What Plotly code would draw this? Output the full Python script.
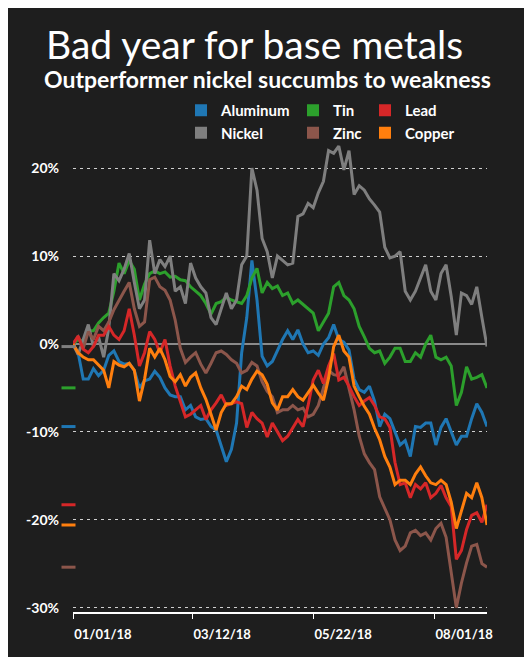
import pandas as pd
import plotly.graph_objects as go

# ---- data (percent change since 01/01/18, sampled every 3 days) ----
dates = pd.date_range("2018-01-01", periods=82, freq="3D")

aluminum = [0, -1.0, -4.0, -4.0, -2.8, -3.6, -3.0, -1.3, -0.8, -2.0,
            -2.3, -2.2, -3.0, -5.0, -4.2, -4.0, -3.1, -3.8, -5.0, -5.8,
            -6.0, -6.0, -7.5, -7.0, -8.3, -8.6, -8.5, -9.4, -9.8, -11.5,
            -13.4, -12.0, -9.0, -1.0, 3.0, 9.5, 5.0, -1.4, -2.5, -2.0,
            -0.8, 0.5, 1.5, 0.5, 1.6, 0.0, -1.0, -0.8, -1.3, 0.0,
            0.7, 2.2, 0.5, 0.2, -0.7, -4.0, -5.2, -5.5, -4.8, -6.5,
            -9.4, -8.0, -8.5, -10.0, -11.5, -11.0, -12.8, -9.4, -9.5, -9.0,
            -9.0, -11.5, -9.5, -8.5, -10.0, -11.5, -10.5, -10.5, -8.5, -6.8,
            -7.8, -9.4]
tin = [0, 0.5, 0.3, 1.5, 1.5, 2.4, 3.0, 3.5, 6.0, 9.2,
       8.0, 9.5, 8.5, 5.0, 6.8, 8.0, 8.3, 8.0, 8.2, 7.6,
       7.7, 7.3, 7.2, 6.5, 6.0, 5.5, 4.6, 3.4, 4.6, 4.8,
       5.3, 5.0, 4.8, 4.6, 5.5, 7.5, 8.6, 5.8, 7.0, 6.3,
       6.6, 5.5, 5.8, 4.6, 5.0, 4.5, 4.0, 3.5, 1.5, 2.5,
       3.5, 6.5, 7.0, 5.5, 5.0, 4.0, 2.0, 0.8, -0.5, -1.0,
       -0.8, -2.2, -1.5, -0.5, -0.5, -2.0, -2.0, -1.0, -1.5, 0.0,
       1.0, -1.5, -1.8, -1.5, -2.5, -7.0, -5.5, -2.6, -4.0, -3.8,
       -3.5, -5.0]
lead = [0, 0.9, -0.6, -1.0, -0.3, 1.0, 1.0, 2.0, 1.0, 0.5,
        1.5, 4.0, 1.0, -2.5, -1.0, 1.4, 0.5, -1.0, 0.5, -2.5,
        -4.8, -6.5, -8.3, -8.0, -7.5, -7.0, -8.6, -7.5, -6.7, -5.8,
        -7.0, -6.8, -6.6, -6.8, -9.5, -7.8, -8.5, -9.0, -10.6, -9.0,
        -10.0, -11.0, -10.5, -9.5, -8.6, -9.4, -7.0, -4.1, -3.0, -4.5,
        -2.5, -1.1, -4.1, -3.8, -4.8, -6.0, -7.0, -6.5, -6.1, -7.0,
        -8.3, -8.5, -9.5, -13.5, -16.0, -15.8, -17.5, -16.0, -16.5, -15.8,
        -17.5, -17.0, -16.1, -17.5, -18.5, -24.5, -23.5, -21.1, -19.5, -19.2,
        -20.3, -18.3]
nickel = [0, -1.2, 0.5, 2.2, -0.3, 0.8, -1.5, 1.8, 8.0, 7.2,
          8.5, 10.3, 7.0, 4.0, 5.0, 11.8, 8.0, 9.6, 8.8, 10.0,
          6.0, 6.5, 4.6, 9.2, 7.5, 6.5, 5.8, 3.0, 2.2, 4.0,
          5.8, 4.0, 5.0, 9.0, 10.0, 20.0, 17.5, 12.0, 10.5, 7.5,
          10.0, 9.5, 9.0, 9.2, 14.5, 14.8, 16.0, 15.5, 17.2, 18.5,
          22.0, 21.7, 22.5, 19.8, 22.0, 17.0, 18.0, 17.5, 16.5, 15.8,
          15.0, 11.0, 9.8, 10.0, 10.5, 6.0, 5.0, 6.0, 7.5, 9.0,
          6.0, 5.0, 8.0, 9.0, 5.4, 1.0, 5.8, 5.5, 4.5, 6.5,
          3.0, -0.3]
zinc = [0, 0.8, -0.5, 1.4, 0.5, 2.0, 1.5, 2.5, 3.9, 5.0,
        6.0, 7.0, 4.0, 2.0, 2.5, 7.3, 7.6, 6.5, 6.1, 5.0,
        2.7, -0.5, -2.1, -1.5, -1.0, -2.3, -3.3, -2.2, -1.0, -0.8,
        -1.2, -1.8, -2.2, -3.3, -3.0, -2.1, -2.5, -4.3, -5.4, -6.0,
        -7.8, -7.5, -7.5, -7.0, -7.5, -7.3, -8.3, -8.0, -7.0, -5.0,
        -3.0, -3.5, -3.6, -2.6, -5.0, -7.5, -10.5, -12.5, -13.5, -14.3,
        -17.4, -18.8, -20.0, -22.3, -23.5, -23.0, -21.5, -21.2, -21.8, -21.5,
        -22.3, -21.0, -20.4, -22.0, -26.0, -30.0, -27.2, -24.9, -23.0, -22.8,
        -25.0, -25.4]
copper = [0, -1.0, -1.5, -1.8, -1.8, -2.4, -3.0, -5.0, -2.0, -2.4,
          -2.6, -2.2, -3.0, -6.5, -4.0, -0.5, -1.5, -0.5, -1.8, -3.7,
          -4.3, -3.5, -4.8, -3.8, -3.3, -5.0, -6.3, -8.0, -9.8, -7.8,
          -6.8, -6.8, -6.0, -4.8, -5.2, -4.0, -3.1, -3.5, -4.6, -6.7,
          -7.5, -6.0, -6.0, -5.2, -6.0, -6.4, -5.5, -4.7, -5.6, -6.4,
          -3.9, -0.3, 1.0, -0.8, -1.5, -4.8, -6.0, -7.1, -8.0, -9.6,
          -10.9, -12.8, -14.0, -16.0, -15.5, -15.5, -16.0, -14.8, -14.0, -15.0,
          -15.8, -16.0, -15.5, -16.0, -18.0, -21.0, -19.0, -17.0, -17.5, -15.8,
          -17.5, -20.6]

y_ticks = [-30, -20, -10, 0, 10, 20]
y_labels = ["-30%", "-20%", "-10%", "0%", "10%", "20%"]
x_ticks = ["2018-01-01", "2018-03-12", "2018-05-22", "2018-08-01"]
x_labels = ["01/01/18", "03/12/18", "05/22/18", "08/01/18"]

series = [
    ("Aluminum", aluminum, "#1f77b4", "legend"),
    ("Tin", tin, "#2ca02c", "legend2"),
    ("Nickel", nickel, "#7f7f7f", "legend"),
    ("Zinc", zinc, "#8c564b", "legend2"),
    ("Lead", lead, "#d62728", "legend3"),
    ("Copper", copper, "#ff7f0e", "legend3"),
]
legend_order = ["Aluminum", "Nickel", "Tin", "Zinc", "Lead", "Copper"]

# page offset (browser body margin) compensation and geometry helpers
OFF = 8
W, H = 532, 657
ML, MR, MT, MB = 64 - OFF, W - (487 - OFF), 133 - OFF, H - (612 - OFF)
PW, PH = W - ML - MR, H - MT - MB
STRIP = 9  # width of the end-value marker strip left of the axis


def px(sx):
    return (sx - OFF - ML) / PW


def py(sy):
    return (H - MB - (sy - OFF)) / PH


fig = go.Figure()
for name, vals, color, lg in series:
    fig.add_trace(go.Scatter(x=dates, y=vals, mode="lines", name=name,
                             line=dict(color=color, width=3),
                             showlegend=False, hoverinfo="skip"))
# final-value markers in a narrow strip left of the axis
for name, vals, color, lg in series:
    fig.add_trace(go.Scatter(x=[0.5], y=[vals[-1]], mode="markers",
                             xaxis="x2", yaxis="y2",
                             marker=dict(symbol="line-ew", size=10,
                                         line=dict(color=color, width=3)),
                             cliponaxis=False, showlegend=False, hoverinfo="skip"))
# legend entries (squares)
lookup = {s[0]: s for s in series}
for name in legend_order:
    _, vals, color, lg = lookup[name]
    fig.add_trace(go.Scatter(x=[None], y=[None], mode="markers", name=name,
                             marker=dict(symbol="square", size=12, color=color),
                             legend=lg))

legend_common = dict(orientation="v",
                     font=dict(size=15, color="white", family="Lato", weight="bold"),
                     bgcolor="rgba(0,0,0,0)", itemwidth=30, tracegroupgap=0,
                     xanchor="left", yanchor="top", y=py(94))

fig.update_layout(
    width=W, height=H,
    paper_bgcolor="#1e1e1e", plot_bgcolor="#1e1e1e",
    font=dict(family="Lato", color="white"),
    margin=dict(l=ML, r=MR, t=MT, b=MB),
    showlegend=True,
    legend=dict(**legend_common, x=px(181)),
    legend2=dict(**legend_common, x=px(293)),
    legend3=dict(**legend_common, x=px(365)),
    xaxis=dict(type="date", domain=[STRIP / PW, 1], range=["2018-01-01", "2018-09-01"],
               tickvals=x_ticks, ticktext=x_labels,
               ticklabelposition="outside right", ticklabelstandoff=10,
               ticks="outside", ticklen=5, tickcolor="white", tickwidth=1,
               showline=True, linecolor="white", linewidth=1.5,
               showgrid=False, zeroline=False, automargin=False,
               tickfont=dict(size=13, color="white", family="Lato", weight="bold")),
    yaxis=dict(range=[-30.5, 24], tickvals=y_ticks, ticktext=y_labels,
               showgrid=True, gridcolor="#d0d0d0", gridwidth=1, griddash="3px,4px",
               zeroline=True, zerolinecolor="#8a8a8a", zerolinewidth=1.5,
               showline=False, ticks="", ticklabelstandoff=13, automargin=False,
               tickfont=dict(size=14, color="white", family="Lato", weight="bold")),
    xaxis2=dict(domain=[0, STRIP / PW], range=[0, 1], visible=False, anchor="y2"),
    yaxis2=dict(matches="y", anchor="x2", visible=False),
    annotations=[
        dict(text="Bad year for base metals", xref="paper", yref="paper",
             x=px(44), y=py(44), xanchor="left", yanchor="middle",
             showarrow=False, font=dict(size=39, color="white", family="Lato")),
        dict(text="Outperformer nickel succumbs to weakness", xref="paper", yref="paper",
             x=px(42), y=py(79), xanchor="left", yanchor="middle",
             showarrow=False, font=dict(size=23, color="white", family="Lato", weight="bold")),
    ],
)

fig.write_html("out.html")
